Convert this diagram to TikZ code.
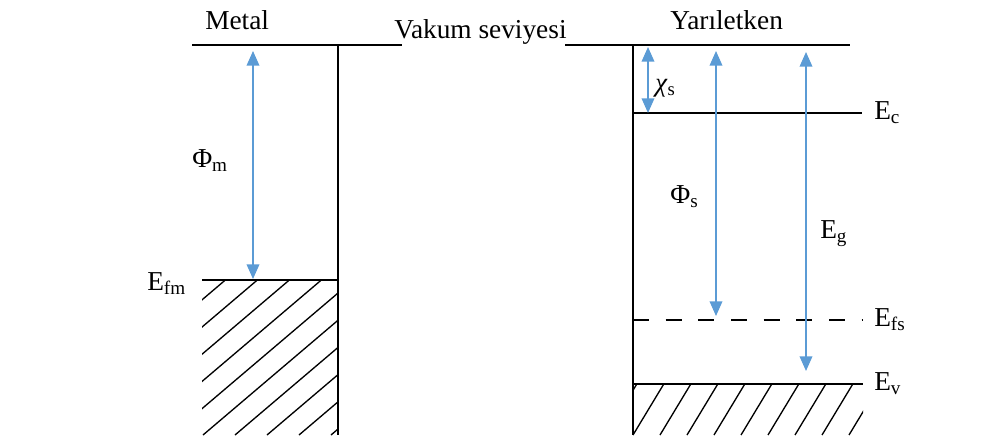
\documentclass[tikz,border=0pt]{standalone}
\usepackage{fontspec}
\setmainfont{Liberation Serif}
\usepackage{tikz}
\usetikzlibrary{arrows.meta}
\definecolor{gapblue}{RGB}{91,155,213}

\begin{document}
\begin{tikzpicture}[x=0.75pt,y=-0.75pt,
    level/.style={line width=1.1pt},
    gaparrow/.style={gapblue,line width=1.1pt,{Triangle[length=11pt,width=9.5pt]}-{Triangle[length=11pt,width=9.5pt]}},
    lbl/.style={inner sep=0pt,font=\fontsize{20.5}{24}\selectfont},
    hatch/.style={line width=1pt}]
    \useasboundingbox (0,0) rectangle (981,439);

    % Level end points (metal)
    \coordinate (MvacL) at (192,45);
    \coordinate (MvacR) at (402,45);
    \coordinate (Mtop) at (338,45);
    \coordinate (Mbot) at (338,435);
    \coordinate (EfmL) at (202,280);
    \coordinate (EfmR) at (338,280);

    % Level end points (semiconductor)
    \coordinate (SvacL) at (565,45);
    \coordinate (SvacR) at (850,45);
    \coordinate (Stop) at (633,45);
    \coordinate (Sbot) at (633,435);
    \coordinate (EcL) at (633,113);
    \coordinate (EcR) at (862,113);
    \coordinate (EfsL) at (633,320);
    \coordinate (EfsR) at (863,320);
    \coordinate (EvL) at (633,384);
    \coordinate (EvR) at (863,384);

    % Levels
    \draw[level] (MvacL) -- (MvacR);
    \draw[level] (SvacL) -- (SvacR);
    \draw[level] (Mtop) -- (Mbot);
    \draw[level] (Stop) -- (Sbot);
    \draw[level] (EfmL) -- (EfmR);
    \draw[level] (EcL) -- (EcR);
    \draw[level,dash pattern=on 12pt off 12.5pt] (EfsL) -- (EfsR);
    \draw[level] (EvL) -- (EvR);

    % Hatching below the Fermi level of the metal
    \begin{scope}
        \clip (EfmL) rectangle (Mbot);
        \foreach \k in {-9,...,4}
            \draw[hatch] (203+\k*32,435) -- ++(260,-221);
    \end{scope}

    % Hatching below the valence band
    \begin{scope}
        \clip (EvL) rectangle (863,435);
        \foreach \k in {-2,...,9}
            \draw[hatch] (633+\k*27,435) -- ++(32,-53);
    \end{scope}

    % Energy arrows
    \coordinate (PhiMtop) at (253,51);
    \coordinate (PhiMbot) at (253,279);
    \coordinate (ChiTop) at (648,47);
    \coordinate (ChiBot) at (648,113);
    \coordinate (PhiStop) at (716,51);
    \coordinate (PhiSbot) at (716,316);
    \coordinate (EgTop) at (806,52);
    \coordinate (EgBot) at (806,371);
    \draw[gaparrow] (PhiMtop) -- (PhiMbot);
    \draw[gaparrow] (ChiTop) -- (ChiBot);
    \draw[gaparrow] (PhiStop) -- (PhiSbot);
    \draw[gaparrow] (EgTop) -- (EgBot);

    % Labels
    \node[lbl,anchor=base west] (metal) at (205,29) {Metal};
    \node[lbl,anchor=base west] (vacuum) at (394,38) {Vakum seviyesi};
    \node[lbl,anchor=base west] (semi) at (670,29) {Yarıletken};
    \node[lbl,anchor=base west] (efm) at (147,290) {E\textsubscript{fm}};
    \node[lbl,anchor=base west] (ec) at (874,119) {E\textsubscript{c}};
    \node[lbl,anchor=base west] (efs) at (874,326) {E\textsubscript{fs}};
    \node[lbl,anchor=base west] (ev) at (874,390) {E\textsubscript{v}};
    \node[lbl,anchor=base west] (phim) at (192,167) {Φ\textsubscript{m}};
    \node[lbl,anchor=base west,font=\fontsize{20}{24}\selectfont] (chis) at (655,91) {\textit{χ}\textsubscript{s}};
    \node[lbl,anchor=base west] (phis) at (670,203) {Φ\textsubscript{s}};
    \node[lbl,anchor=base west] (eg) at (820,238) {E\textsubscript{g}};
\end{tikzpicture}
\end{document}
